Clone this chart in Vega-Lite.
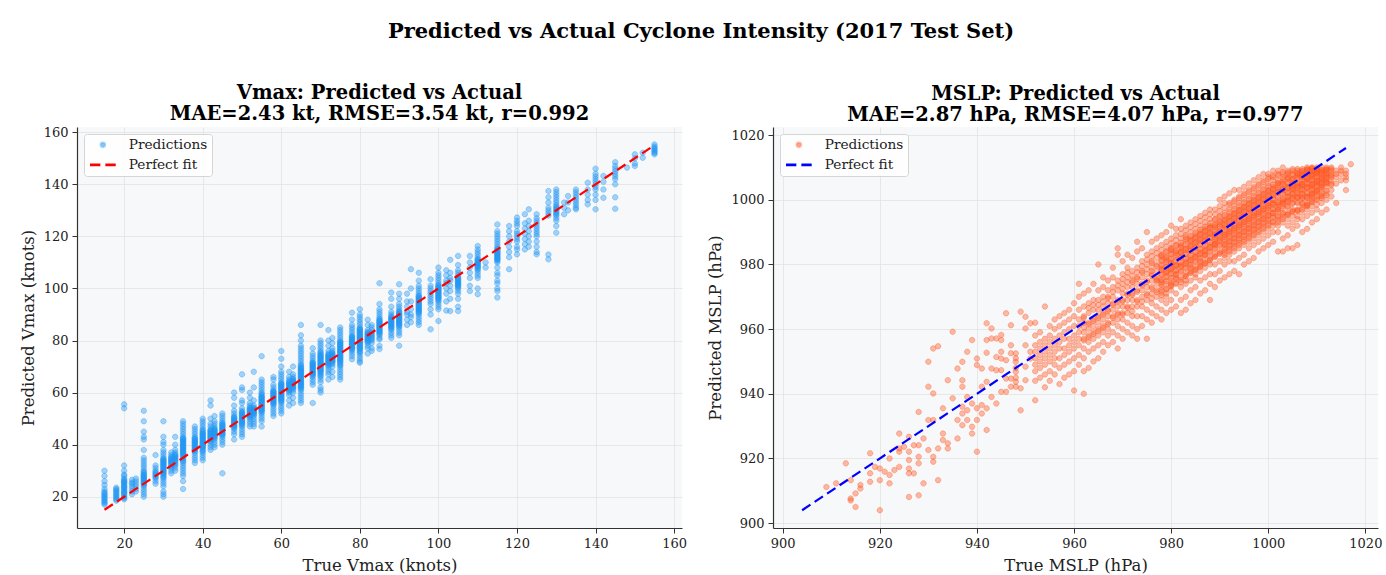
{
"$schema": "https://vega.github.io/schema/vega-lite/v6.json",
"background": "white",
"padding": {"left": 20, "top": 20, "right": 6, "bottom": 2},
"title": {"text": "Predicted vs Actual Cyclone Intensity (2017 Test Set)", "font": "DejaVu Serif", "fontSize": 21, "fontWeight": "bold", "color": "#000", "anchor": "middle", "offset": 41},
"bounds": "flush",
"spacing": 91,
"resolve": {"scale": {"color": "independent", "shape": "independent", "stroke": "independent"}, "legend": {"color": "independent", "shape": "independent", "stroke": "independent"}},
"config": {
  "view": {"fill": "#f7f8fa", "stroke": null},
  "axis": {"labelFont": "DejaVu Serif", "labelFontSize": 13, "labelColor": "#222", "titleFont": "DejaVu Serif", "titleFontSize": 16.5, "titleFontWeight": "normal", "titleColor": "#222", "domainColor": "#333", "domainWidth": 1.2, "tickColor": "#333", "tickSize": 5, "tickWidth": 1, "gridColor": "#e2e2e2", "gridWidth": 0.8, "labelPadding": 4, "titlePadding": 7, "format": "d"},
  "title": {"font": "DejaVu Serif", "fontSize": 19.5, "fontWeight": "bold", "color": "#000"},
  "legend": {"title": null, "orient": "top-left", "offset": 7, "fillColor": "rgba(255,255,255,0.85)", "strokeColor": "#d5d5d5", "cornerRadius": 3, "padding": 4, "labelFont": "DejaVu Serif", "labelFontSize": 13.7, "labelColor": "#222", "symbolSize": 100, "symbolStrokeWidth": 2.6, "symbolOffset": 8, "rowPadding": 4, "labelOffset": 19}
},
"datasets": {
"fitV": [{"t": 15, "p": 15}, {"t": 155, "p": 155}],
"fitM": [{"t": 904, "p": 904}, {"t": 1016, "p": 1016}],
"vmax": [
{"t":15,"p":17},{"t":15,"p":17.5},{"t":15,"p":18},{"t":15,"p":18.5},{"t":15,"p":19},{"t":15,"p":19.5},{"t":15,"p":20},{"t":15,"p":20.5},{"t":15,"p":21},{"t":15,"p":21.5},{"t":15,"p":22},{"t":15,"p":23},{"t":15,"p":24.5},{"t":15,"p":26},{"t":15,"p":28},{"t":15,"p":30},
{"t":18,"p":18.5},{"t":18,"p":19},{"t":18,"p":19.5},{"t":18,"p":20},{"t":18,"p":20.5},{"t":18,"p":21},{"t":18,"p":21.5},{"t":18,"p":22},{"t":18,"p":22.5},{"t":18,"p":23},{"t":18,"p":23.5},
{"t":20,"p":19},{"t":20,"p":19.5},{"t":20,"p":20.5},{"t":20,"p":21.5},{"t":20,"p":22.5},{"t":20,"p":23},{"t":20,"p":23.5},{"t":20,"p":24},{"t":20,"p":25},{"t":20,"p":25.5},{"t":20,"p":26},{"t":20,"p":27},{"t":20,"p":28},{"t":20,"p":28.5},{"t":20,"p":30},{"t":20,"p":32},{"t":20,"p":54},{"t":20,"p":55.5},
{"t":20,"p":20},{"t":20,"p":21},{"t":20,"p":22},{"t":20,"p":24.5},{"t":20,"p":26.5},
{"t":22,"p":21},{"t":22,"p":22},{"t":22,"p":23},{"t":22,"p":24},{"t":22,"p":25},{"t":22,"p":25.5},{"t":22,"p":26.5},
{"t":23,"p":22},{"t":23,"p":23},{"t":23,"p":24},{"t":23,"p":25},{"t":23,"p":26},{"t":23,"p":27},
{"t":25,"p":20},{"t":25,"p":21},{"t":25,"p":22},{"t":25,"p":23},{"t":25,"p":24},{"t":25,"p":25},{"t":25,"p":26},{"t":25,"p":27},{"t":25,"p":28},{"t":25,"p":29},{"t":25,"p":30},{"t":25,"p":31},{"t":25,"p":32},{"t":25,"p":33},{"t":25,"p":34},{"t":25,"p":35},{"t":25,"p":38},{"t":25,"p":42},{"t":25,"p":43},{"t":25,"p":45},{"t":25,"p":49},{"t":25,"p":53},
{"t":25,"p":24.5},{"t":25,"p":25.5},{"t":25,"p":26.5},{"t":25,"p":27.5},{"t":25,"p":28.5},{"t":25,"p":29.5},
{"t":28,"p":25},{"t":28,"p":26},{"t":28,"p":27},{"t":28,"p":28},{"t":28,"p":29},{"t":28,"p":30},{"t":28,"p":31},{"t":28,"p":32},{"t":28,"p":36},
{"t":30,"p":20},{"t":30,"p":21},{"t":30,"p":22},{"t":30,"p":24},{"t":30,"p":25},{"t":30,"p":26},{"t":30,"p":27},{"t":30,"p":28},{"t":30,"p":29},{"t":30,"p":30},{"t":30,"p":31},{"t":30,"p":32},{"t":30,"p":33},{"t":30,"p":34},{"t":30,"p":35},{"t":30,"p":36},{"t":30,"p":37},{"t":30,"p":38},{"t":30,"p":40},{"t":30,"p":41},{"t":30,"p":43},{"t":30,"p":49},
{"t":30,"p":27.5},{"t":30,"p":28.5},{"t":30,"p":29.5},{"t":30,"p":30.5},{"t":30,"p":31.5},{"t":30,"p":32.5},{"t":30,"p":33.5},{"t":30,"p":34.5},
{"t":32,"p":29},{"t":32,"p":30},{"t":32,"p":31},{"t":32,"p":32},{"t":32,"p":33},{"t":32,"p":34},{"t":32,"p":35},{"t":32,"p":36},{"t":32,"p":37},
{"t":32,"p":31.5},{"t":32,"p":32.5},{"t":32,"p":33.5},{"t":32,"p":34.5},
{"t":33,"p":30},{"t":33,"p":31},{"t":33,"p":32},{"t":33,"p":33},{"t":33,"p":34},{"t":33,"p":35},{"t":33,"p":36},{"t":33,"p":37},{"t":33,"p":38},{"t":33,"p":40},{"t":33,"p":43},
{"t":33,"p":32.5},{"t":33,"p":33.5},{"t":33,"p":34.5},{"t":33,"p":35.5},
{"t":35,"p":23},{"t":35,"p":26},{"t":35,"p":28},{"t":35,"p":29},{"t":35,"p":30},{"t":35,"p":31},{"t":35,"p":32},{"t":35,"p":33},{"t":35,"p":34},{"t":35,"p":35},{"t":35,"p":36},{"t":35,"p":37},{"t":35,"p":38},{"t":35,"p":39},{"t":35,"p":40},{"t":35,"p":41},{"t":35,"p":42},{"t":35,"p":43},{"t":35,"p":44},{"t":35,"p":45},{"t":35,"p":46},{"t":35,"p":47},{"t":35,"p":48},{"t":35,"p":49},
{"t":35,"p":33.5},{"t":35,"p":34.5},{"t":35,"p":35.5},{"t":35,"p":36.5},{"t":35,"p":37.5},{"t":35,"p":38.5},{"t":35,"p":39.5},{"t":35,"p":40.5},{"t":35,"p":41.5},{"t":35,"p":42.5},
{"t":38,"p":33},{"t":38,"p":34},{"t":38,"p":35},{"t":38,"p":36},{"t":38,"p":37},{"t":38,"p":38},{"t":38,"p":39},{"t":38,"p":40},{"t":38,"p":41},{"t":38,"p":42},{"t":38,"p":43},{"t":38,"p":44},{"t":38,"p":45},{"t":38,"p":46},{"t":38,"p":47},
{"t":38,"p":37.5},{"t":38,"p":38.5},{"t":38,"p":39.5},{"t":38,"p":40.5},{"t":38,"p":41.5},{"t":38,"p":42.5},
{"t":40,"p":34},{"t":40,"p":35},{"t":40,"p":36},{"t":40,"p":37},{"t":40,"p":38},{"t":40,"p":39},{"t":40,"p":40},{"t":40,"p":41},{"t":40,"p":42},{"t":40,"p":43},{"t":40,"p":44},{"t":40,"p":45},{"t":40,"p":46},{"t":40,"p":47},{"t":40,"p":48},{"t":40,"p":49},{"t":40,"p":50},
{"t":40,"p":37.5},{"t":40,"p":38.5},{"t":40,"p":39.5},{"t":40,"p":40.5},{"t":40,"p":41.5},{"t":40,"p":42.5},{"t":40,"p":43.5},{"t":40,"p":44.5},{"t":40,"p":45.5},
{"t":42,"p":38},{"t":42,"p":39},{"t":42,"p":40},{"t":42,"p":41},{"t":42,"p":42},{"t":42,"p":43},{"t":42,"p":44},{"t":42,"p":45},{"t":42,"p":46},{"t":42,"p":47},{"t":42,"p":48},{"t":42,"p":50},{"t":42,"p":55},{"t":42,"p":57},
{"t":42,"p":41.5},{"t":42,"p":42.5},{"t":42,"p":43.5},{"t":42,"p":44.5},{"t":42,"p":45.5},
{"t":43,"p":39},{"t":43,"p":40},{"t":43,"p":41},{"t":43,"p":42},{"t":43,"p":43},{"t":43,"p":44},{"t":43,"p":45},{"t":43,"p":46},{"t":43,"p":47},{"t":43,"p":48},{"t":43,"p":49},{"t":43,"p":51},
{"t":43,"p":42.5},{"t":43,"p":43.5},{"t":43,"p":44.5},{"t":43,"p":45.5},
{"t":45,"p":29},{"t":45,"p":40},{"t":45,"p":41},{"t":45,"p":42},{"t":45,"p":43},{"t":45,"p":44},{"t":45,"p":45},{"t":45,"p":46},{"t":45,"p":47},{"t":45,"p":48},{"t":45,"p":49},{"t":45,"p":50},{"t":45,"p":51},{"t":45,"p":52},
{"t":45,"p":43.5},{"t":45,"p":44.5},{"t":45,"p":45.5},{"t":45,"p":46.5},{"t":45,"p":47.5},
{"t":48,"p":42},{"t":48,"p":44},{"t":48,"p":45},{"t":48,"p":46},{"t":48,"p":47},{"t":48,"p":48},{"t":48,"p":49},{"t":48,"p":50},{"t":48,"p":51},{"t":48,"p":52},{"t":48,"p":53},{"t":48,"p":55},{"t":48,"p":58},{"t":48,"p":60},
{"t":48,"p":46.5},{"t":48,"p":47.5},{"t":48,"p":48.5},{"t":48,"p":49.5},{"t":48,"p":50.5},
{"t":50,"p":43},{"t":50,"p":44},{"t":50,"p":45},{"t":50,"p":46},{"t":50,"p":47},{"t":50,"p":48},{"t":50,"p":49},{"t":50,"p":50},{"t":50,"p":51},{"t":50,"p":52},{"t":50,"p":53},{"t":50,"p":54},{"t":50,"p":56},{"t":50,"p":57},{"t":50,"p":61},{"t":50,"p":62},{"t":50,"p":67},
{"t":50,"p":47.5},{"t":50,"p":48.5},{"t":50,"p":49.5},{"t":50,"p":50.5},{"t":50,"p":51.5},{"t":50,"p":52.5},
{"t":52,"p":47},{"t":52,"p":48},{"t":52,"p":49},{"t":52,"p":50},{"t":52,"p":51},{"t":52,"p":52},{"t":52,"p":53},{"t":52,"p":54},{"t":52,"p":55},{"t":52,"p":56},{"t":52,"p":58},{"t":52,"p":60},
{"t":52,"p":50.5},{"t":52,"p":51.5},{"t":52,"p":52.5},{"t":52,"p":53.5},
{"t":53,"p":47},{"t":53,"p":48},{"t":53,"p":49},{"t":53,"p":50},{"t":53,"p":51},{"t":53,"p":52},{"t":53,"p":53},{"t":53,"p":54},{"t":53,"p":55},{"t":53,"p":57},{"t":53,"p":62},{"t":53,"p":68},
{"t":53,"p":51.5},{"t":53,"p":52.5},{"t":53,"p":53.5},
{"t":55,"p":47},{"t":55,"p":49},{"t":55,"p":50},{"t":55,"p":51},{"t":55,"p":52},{"t":55,"p":53},{"t":55,"p":54},{"t":55,"p":55},{"t":55,"p":56},{"t":55,"p":57},{"t":55,"p":58},{"t":55,"p":59},{"t":55,"p":60},{"t":55,"p":61},{"t":55,"p":62},{"t":55,"p":63},{"t":55,"p":64},{"t":55,"p":65},{"t":55,"p":74},
{"t":55,"p":52.5},{"t":55,"p":53.5},{"t":55,"p":54.5},{"t":55,"p":55.5},{"t":55,"p":56.5},{"t":55,"p":57.5},{"t":55,"p":58.5},{"t":55,"p":59.5},
{"t":58,"p":51},{"t":58,"p":52},{"t":58,"p":53},{"t":58,"p":54},{"t":58,"p":55},{"t":58,"p":56},{"t":58,"p":57},{"t":58,"p":58},{"t":58,"p":59},{"t":58,"p":60},{"t":58,"p":61},{"t":58,"p":62},{"t":58,"p":63},{"t":58,"p":65},{"t":58,"p":66},
{"t":58,"p":55.5},{"t":58,"p":56.5},{"t":58,"p":57.5},{"t":58,"p":58.5},{"t":58,"p":59.5},{"t":58,"p":60.5},
{"t":60,"p":52},{"t":60,"p":53},{"t":60,"p":54},{"t":60,"p":55},{"t":60,"p":56},{"t":60,"p":57},{"t":60,"p":58},{"t":60,"p":59},{"t":60,"p":60},{"t":60,"p":61},{"t":60,"p":62},{"t":60,"p":63},{"t":60,"p":64},{"t":60,"p":65},{"t":60,"p":66},{"t":60,"p":67},{"t":60,"p":68},{"t":60,"p":70},{"t":60,"p":73},{"t":60,"p":76},
{"t":60,"p":56.5},{"t":60,"p":57.5},{"t":60,"p":58.5},{"t":60,"p":59.5},{"t":60,"p":60.5},{"t":60,"p":61.5},{"t":60,"p":62.5},{"t":60,"p":63.5},
{"t":62,"p":55},{"t":62,"p":57},{"t":62,"p":59},{"t":62,"p":60},{"t":62,"p":61},{"t":62,"p":62},{"t":62,"p":63},{"t":62,"p":64},{"t":62,"p":65},{"t":62,"p":66},{"t":62,"p":68},
{"t":62,"p":60.5},{"t":62,"p":61.5},{"t":62,"p":62.5},{"t":62,"p":63.5},
{"t":63,"p":56},{"t":63,"p":58},{"t":63,"p":60},{"t":63,"p":61},{"t":63,"p":62},{"t":63,"p":63},{"t":63,"p":64},{"t":63,"p":65},{"t":63,"p":66},{"t":63,"p":67},{"t":63,"p":70},
{"t":63,"p":61.5},{"t":63,"p":62.5},{"t":63,"p":63.5},{"t":63,"p":64.5},
{"t":65,"p":56},{"t":65,"p":57},{"t":65,"p":58},{"t":65,"p":59},{"t":65,"p":60},{"t":65,"p":61},{"t":65,"p":62},{"t":65,"p":63},{"t":65,"p":64},{"t":65,"p":65},{"t":65,"p":66},{"t":65,"p":67},{"t":65,"p":68},{"t":65,"p":69},{"t":65,"p":70},{"t":65,"p":71},{"t":65,"p":72},{"t":65,"p":73},{"t":65,"p":74},{"t":65,"p":75},{"t":65,"p":76},{"t":65,"p":77},{"t":65,"p":78},{"t":65,"p":80},{"t":65,"p":82},{"t":65,"p":86},
{"t":65,"p":61.5},{"t":65,"p":62.5},{"t":65,"p":63.5},{"t":65,"p":64.5},{"t":65,"p":65.5},{"t":65,"p":66.5},{"t":65,"p":67.5},{"t":65,"p":68.5},{"t":65,"p":69.5},{"t":65,"p":70.5},
{"t":68,"p":56},{"t":68,"p":63},{"t":68,"p":64},{"t":68,"p":65},{"t":68,"p":66},{"t":68,"p":67},{"t":68,"p":68},{"t":68,"p":69},{"t":68,"p":70},{"t":68,"p":71},{"t":68,"p":72},{"t":68,"p":73},{"t":68,"p":74},{"t":68,"p":75},{"t":68,"p":77},
{"t":68,"p":66.5},{"t":68,"p":67.5},{"t":68,"p":68.5},{"t":68,"p":69.5},{"t":68,"p":70.5},{"t":68,"p":71.5},
{"t":70,"p":60},{"t":70,"p":61},{"t":70,"p":62},{"t":70,"p":64},{"t":70,"p":65},{"t":70,"p":66},{"t":70,"p":67},{"t":70,"p":68},{"t":70,"p":69},{"t":70,"p":70},{"t":70,"p":71},{"t":70,"p":72},{"t":70,"p":73},{"t":70,"p":74},{"t":70,"p":75},{"t":70,"p":76},{"t":70,"p":77},{"t":70,"p":78},{"t":70,"p":79},{"t":70,"p":80},{"t":70,"p":86},
{"t":70,"p":66.5},{"t":70,"p":67.5},{"t":70,"p":68.5},{"t":70,"p":69.5},{"t":70,"p":70.5},{"t":70,"p":71.5},{"t":70,"p":72.5},{"t":70,"p":73.5},{"t":70,"p":74.5},{"t":70,"p":75.5},
{"t":72,"p":65},{"t":72,"p":67},{"t":72,"p":68},{"t":72,"p":69},{"t":72,"p":70},{"t":72,"p":71},{"t":72,"p":72},{"t":72,"p":73},{"t":72,"p":74},{"t":72,"p":75},{"t":72,"p":76},{"t":72,"p":78},{"t":72,"p":80},{"t":72,"p":84},
{"t":72,"p":70.5},{"t":72,"p":71.5},{"t":72,"p":72.5},{"t":72,"p":73.5},{"t":72,"p":74.5},
{"t":73,"p":66},{"t":73,"p":68},{"t":73,"p":70},{"t":73,"p":71},{"t":73,"p":72},{"t":73,"p":73},{"t":73,"p":74},{"t":73,"p":75},{"t":73,"p":76},{"t":73,"p":77},{"t":73,"p":79},{"t":73,"p":81},
{"t":73,"p":71.5},{"t":73,"p":72.5},{"t":73,"p":73.5},{"t":73,"p":74.5},
{"t":75,"p":65},{"t":75,"p":66},{"t":75,"p":67},{"t":75,"p":68},{"t":75,"p":69},{"t":75,"p":70},{"t":75,"p":71},{"t":75,"p":72},{"t":75,"p":73},{"t":75,"p":74},{"t":75,"p":75},{"t":75,"p":76},{"t":75,"p":77},{"t":75,"p":78},{"t":75,"p":79},{"t":75,"p":80},{"t":75,"p":81},{"t":75,"p":82},{"t":75,"p":83},{"t":75,"p":84},{"t":75,"p":85},
{"t":75,"p":70.5},{"t":75,"p":71.5},{"t":75,"p":72.5},{"t":75,"p":73.5},{"t":75,"p":74.5},{"t":75,"p":75.5},{"t":75,"p":76.5},{"t":75,"p":77.5},{"t":75,"p":78.5},{"t":75,"p":79.5},
{"t":78,"p":72.8},{"t":78,"p":74},{"t":78,"p":75},{"t":78,"p":76},{"t":78,"p":77},{"t":78,"p":78},{"t":78,"p":79},{"t":78,"p":80},{"t":78,"p":81},{"t":78,"p":82},{"t":78,"p":83},{"t":78,"p":84},{"t":78,"p":85},{"t":78,"p":86},{"t":78,"p":88},{"t":78,"p":90.7},
{"t":78,"p":76.5},{"t":78,"p":77.5},{"t":78,"p":78.5},{"t":78,"p":79.5},{"t":78,"p":80.5},{"t":78,"p":81.5},
{"t":80,"p":71.5},{"t":80,"p":72},{"t":80,"p":73},{"t":80,"p":74},{"t":80,"p":75},{"t":80,"p":76},{"t":80,"p":77},{"t":80,"p":78},{"t":80,"p":79},{"t":80,"p":80},{"t":80,"p":81},{"t":80,"p":82},{"t":80,"p":83},{"t":80,"p":84},{"t":80,"p":85},{"t":80,"p":86},{"t":80,"p":87},{"t":80,"p":88},{"t":80,"p":89},{"t":80,"p":90},{"t":80,"p":92},
{"t":80,"p":75.5},{"t":80,"p":76.5},{"t":80,"p":77.5},{"t":80,"p":78.5},{"t":80,"p":79.5},{"t":80,"p":80.5},{"t":80,"p":81.5},{"t":80,"p":82.5},{"t":80,"p":83.5},{"t":80,"p":84.5},
{"t":82,"p":75},{"t":82,"p":77},{"t":82,"p":78},{"t":82,"p":79},{"t":82,"p":80},{"t":82,"p":81},{"t":82,"p":82},{"t":82,"p":83},{"t":82,"p":84},{"t":82,"p":86},{"t":82,"p":88},
{"t":82,"p":79.5},{"t":82,"p":80.5},{"t":82,"p":81.5},{"t":82,"p":82.5},
{"t":83,"p":76},{"t":83,"p":77},{"t":83,"p":79},{"t":83,"p":80},{"t":83,"p":81},{"t":83,"p":82},{"t":83,"p":83},{"t":83,"p":84},{"t":83,"p":85},{"t":83,"p":86},
{"t":83,"p":80.5},{"t":83,"p":81.5},{"t":83,"p":82.5},
{"t":85,"p":76.7},{"t":85,"p":78},{"t":85,"p":80.5},{"t":85,"p":81},{"t":85,"p":82},{"t":85,"p":83},{"t":85,"p":84},{"t":85,"p":85},{"t":85,"p":86},{"t":85,"p":87},{"t":85,"p":88},{"t":85,"p":89},{"t":85,"p":90},{"t":85,"p":91},{"t":85,"p":92},{"t":85,"p":94},{"t":85,"p":102},
{"t":85,"p":82.5},{"t":85,"p":83.5},{"t":85,"p":84.5},{"t":85,"p":85.5},{"t":85,"p":86.5},{"t":85,"p":87.5},
{"t":88,"p":81},{"t":88,"p":82},{"t":88,"p":83},{"t":88,"p":84},{"t":88,"p":85},{"t":88,"p":86},{"t":88,"p":87},{"t":88,"p":88},{"t":88,"p":89},{"t":88,"p":90},{"t":88,"p":91},{"t":88,"p":93},{"t":88,"p":96},{"t":88,"p":98.4},
{"t":88,"p":84.5},{"t":88,"p":85.5},{"t":88,"p":86.5},{"t":88,"p":87.5},{"t":88,"p":88.5},
{"t":90,"p":78},{"t":90,"p":82},{"t":90,"p":83},{"t":90,"p":84},{"t":90,"p":85},{"t":90,"p":86},{"t":90,"p":87},{"t":90,"p":88},{"t":90,"p":89},{"t":90,"p":90},{"t":90,"p":91},{"t":90,"p":92},{"t":90,"p":93},{"t":90,"p":94},{"t":90,"p":96},{"t":90,"p":98},{"t":90,"p":101.6},
{"t":90,"p":85.5},{"t":90,"p":86.5},{"t":90,"p":87.5},{"t":90,"p":88.5},{"t":90,"p":89.5},{"t":90,"p":90.5},
{"t":92,"p":86},{"t":92,"p":88},{"t":92,"p":90},{"t":92,"p":91},{"t":92,"p":93},{"t":92,"p":95},{"t":92,"p":98},
{"t":93,"p":87},{"t":93,"p":89},{"t":93,"p":90},{"t":93,"p":92},{"t":93,"p":95},{"t":93,"p":100},{"t":93,"p":107.4},
{"t":95,"p":86},{"t":95,"p":87},{"t":95,"p":88},{"t":95,"p":89},{"t":95,"p":90},{"t":95,"p":91},{"t":95,"p":92},{"t":95,"p":93},{"t":95,"p":94},{"t":95,"p":95},{"t":95,"p":96},{"t":95,"p":97},{"t":95,"p":98},{"t":95,"p":99},{"t":95,"p":100},{"t":95,"p":101},{"t":95,"p":103},{"t":95,"p":106},
{"t":95,"p":90.5},{"t":95,"p":91.5},{"t":95,"p":92.5},{"t":95,"p":93.5},{"t":95,"p":94.5},{"t":95,"p":95.5},{"t":95,"p":96.5},
{"t":98,"p":84.3},{"t":98,"p":90},{"t":98,"p":92},{"t":98,"p":94},{"t":98,"p":95},{"t":98,"p":96},{"t":98,"p":97},{"t":98,"p":98},{"t":98,"p":99},{"t":98,"p":100},{"t":98,"p":101},{"t":98,"p":103.5},
{"t":100,"p":87.5},{"t":100,"p":92},{"t":100,"p":93},{"t":100,"p":94},{"t":100,"p":95},{"t":100,"p":96},{"t":100,"p":97},{"t":100,"p":98},{"t":100,"p":99},{"t":100,"p":100},{"t":100,"p":101},{"t":100,"p":102},{"t":100,"p":103},{"t":100,"p":104},{"t":100,"p":105},{"t":100,"p":106},{"t":100,"p":108},
{"t":100,"p":95.5},{"t":100,"p":96.5},{"t":100,"p":97.5},{"t":100,"p":98.5},{"t":100,"p":99.5},{"t":100,"p":100.5},
{"t":102,"p":91.5},{"t":102,"p":95},{"t":102,"p":98},{"t":102,"p":100},{"t":102,"p":102},{"t":102,"p":103},{"t":102,"p":105},{"t":102,"p":107},
{"t":103,"p":91.3},{"t":103,"p":96},{"t":103,"p":99},{"t":103,"p":101},{"t":103,"p":103},{"t":103,"p":104},{"t":103,"p":106},{"t":103,"p":111},
{"t":105,"p":91.3},{"t":105,"p":93},{"t":105,"p":96},{"t":105,"p":98},{"t":105,"p":99},{"t":105,"p":100},{"t":105,"p":101},{"t":105,"p":102},{"t":105,"p":103},{"t":105,"p":104},{"t":105,"p":105},{"t":105,"p":106},{"t":105,"p":107},{"t":105,"p":109},{"t":105,"p":112.5},
{"t":105,"p":100.5},{"t":105,"p":101.5},{"t":105,"p":102.5},{"t":105,"p":103.5},
{"t":108,"p":99},{"t":108,"p":101},{"t":108,"p":104},{"t":108,"p":106},{"t":108,"p":108},{"t":108,"p":110},{"t":108,"p":112.5},
{"t":110,"p":97.8},{"t":110,"p":100},{"t":110,"p":104},{"t":110,"p":105},{"t":110,"p":106},{"t":110,"p":107},{"t":110,"p":108},{"t":110,"p":109},{"t":110,"p":110},{"t":110,"p":111},{"t":110,"p":112},{"t":110,"p":113},{"t":110,"p":114},{"t":110,"p":115},{"t":110,"p":116.3},
{"t":110,"p":107.5},{"t":110,"p":108.5},{"t":110,"p":109.5},{"t":110,"p":110.5},
{"t":112,"p":108},{"t":112,"p":110},
{"t":115,"p":96.5},{"t":115,"p":99},{"t":115,"p":100},{"t":115,"p":102},{"t":115,"p":103},{"t":115,"p":105},{"t":115,"p":106},{"t":115,"p":108},{"t":115,"p":110},{"t":115,"p":111},{"t":115,"p":112},{"t":115,"p":113},{"t":115,"p":114},{"t":115,"p":115},{"t":115,"p":116},{"t":115,"p":117},{"t":115,"p":118},{"t":115,"p":119},{"t":115,"p":120},{"t":115,"p":121},{"t":115,"p":122},{"t":115,"p":124.6},
{"t":115,"p":110.5},{"t":115,"p":111.5},{"t":115,"p":112.5},{"t":115,"p":113.5},{"t":115,"p":114.5},
{"t":118,"p":107.4},{"t":118,"p":112},{"t":118,"p":114},{"t":118,"p":116},{"t":118,"p":118},{"t":118,"p":120},{"t":118,"p":122},{"t":118,"p":124},
{"t":120,"p":113.1},{"t":120,"p":115},{"t":120,"p":116},{"t":120,"p":118},{"t":120,"p":119},{"t":120,"p":120},{"t":120,"p":121},{"t":120,"p":122},{"t":120,"p":124},{"t":120,"p":125},{"t":120,"p":126},{"t":120,"p":127.2},
{"t":122,"p":115},{"t":122,"p":117},{"t":122,"p":119},{"t":122,"p":121},{"t":122,"p":123},{"t":122,"p":125},{"t":122,"p":128.5},
{"t":123,"p":116},{"t":123,"p":118},{"t":123,"p":120},{"t":123,"p":122},{"t":123,"p":124},{"t":123,"p":126},{"t":123,"p":130.4},
{"t":125,"p":113.1},{"t":125,"p":114},{"t":125,"p":116},{"t":125,"p":118},{"t":125,"p":120},{"t":125,"p":121},{"t":125,"p":122},{"t":125,"p":123},{"t":125,"p":124},{"t":125,"p":125},{"t":125,"p":126},{"t":125,"p":127},{"t":125,"p":128.5},
{"t":128,"p":111.2},{"t":128,"p":113},{"t":128,"p":128},{"t":128,"p":129},{"t":128,"p":130},{"t":128,"p":131},{"t":128,"p":133},{"t":128,"p":135},{"t":128,"p":137.4},
{"t":130,"p":121.4},{"t":130,"p":124},{"t":130,"p":126},{"t":130,"p":127},{"t":130,"p":128},{"t":130,"p":129},{"t":130,"p":130},{"t":130,"p":131},{"t":130,"p":132},{"t":130,"p":133},{"t":130,"p":134},{"t":130,"p":135},{"t":130,"p":136},{"t":130,"p":137},{"t":130,"p":138},
{"t":132,"p":128.5},{"t":132,"p":131},{"t":132,"p":133},
{"t":133,"p":130},{"t":133,"p":133},{"t":133,"p":135.5},
{"t":135,"p":130.4},{"t":135,"p":131},{"t":135,"p":132},{"t":135,"p":133},{"t":135,"p":134},{"t":135,"p":135},{"t":135,"p":136},{"t":135,"p":137},{"t":135,"p":138},
{"t":138,"p":132.3},{"t":138,"p":134},{"t":138,"p":136},{"t":138,"p":138},{"t":138,"p":140.6},
{"t":140,"p":130.4},{"t":140,"p":134},{"t":140,"p":136},{"t":140,"p":138},{"t":140,"p":139},{"t":140,"p":140},{"t":140,"p":141},{"t":140,"p":142},{"t":140,"p":143},{"t":140,"p":144},{"t":140,"p":146},
{"t":142,"p":134.8},{"t":142,"p":138},{"t":142,"p":141},{"t":142,"p":143.2},
{"t":145,"p":130.6},{"t":145,"p":135},{"t":145,"p":140},{"t":145,"p":142},{"t":145,"p":143},{"t":145,"p":144},{"t":145,"p":145},{"t":145,"p":146},{"t":145,"p":147},{"t":145,"p":148.5},
{"t":148,"p":146.4},
{"t":150,"p":147},{"t":150,"p":148},{"t":150,"p":150},{"t":150,"p":151.5},
{"t":152,"p":150.2},{"t":152,"p":152.1},
{"t":155,"p":151.5},{"t":155,"p":152},{"t":155,"p":152.5},{"t":155,"p":153},{"t":155,"p":153.5},{"t":155,"p":154},{"t":155,"p":154.5},{"t":155,"p":155.3},
{"t":20,"p":21.75},{"t":20,"p":23.75},{"t":20,"p":25.75},
{"t":25,"p":25.25},{"t":25,"p":26.25},{"t":25,"p":27.25},{"t":25,"p":28.25},
{"t":28,"p":27.5},{"t":28,"p":28.5},{"t":28,"p":29.5},
{"t":30,"p":29.25},{"t":30,"p":30.25},{"t":30,"p":31.25},{"t":30,"p":32.25},{"t":30,"p":33.25},{"t":30,"p":34.25},
{"t":32,"p":33.25},{"t":32,"p":34.25},{"t":32,"p":35.25},
{"t":33,"p":34.25},{"t":33,"p":35.25},{"t":33,"p":36.25},
{"t":35,"p":36.25},{"t":35,"p":37.25},{"t":35,"p":38.25},{"t":35,"p":39.25},{"t":35,"p":40.25},{"t":35,"p":41.25},{"t":35,"p":42.25},
{"t":38,"p":38.25},{"t":38,"p":39.25},{"t":38,"p":40.25},{"t":38,"p":41.25},{"t":38,"p":42.25},
{"t":40,"p":39.25},{"t":40,"p":40.25},{"t":40,"p":41.25},{"t":40,"p":42.25},{"t":40,"p":43.25},{"t":40,"p":44.25},
{"t":42,"p":42.25},{"t":42,"p":43.25},{"t":42,"p":44.25},{"t":42,"p":45.25},
{"t":43,"p":43.25},{"t":43,"p":44.25},{"t":43,"p":45.25},{"t":43,"p":46.25},
{"t":45,"p":44.25},{"t":45,"p":45.25},{"t":45,"p":46.25},{"t":45,"p":47.25},{"t":45,"p":48.25},
{"t":48,"p":47.25},{"t":48,"p":48.25},{"t":48,"p":49.25},{"t":48,"p":50.25},
{"t":50,"p":48.25},{"t":50,"p":49.25},{"t":50,"p":50.25},{"t":50,"p":51.25},{"t":50,"p":52.25},
{"t":52,"p":51.25},{"t":52,"p":52.25},{"t":52,"p":53.25},{"t":52,"p":54.25},
{"t":53,"p":52.25},{"t":53,"p":53.25},{"t":53,"p":54.25},
{"t":55,"p":53.25},{"t":55,"p":54.25},{"t":55,"p":55.25},{"t":55,"p":56.25},{"t":55,"p":57.25},{"t":55,"p":58.25},
{"t":58,"p":56.25},{"t":58,"p":57.25},{"t":58,"p":58.25},{"t":58,"p":59.25},{"t":58,"p":60.25},
{"t":60,"p":57.25},{"t":60,"p":58.25},{"t":60,"p":59.25},{"t":60,"p":60.25},{"t":60,"p":61.25},{"t":60,"p":62.25},{"t":60,"p":63.25},
{"t":62,"p":61.25},{"t":62,"p":62.25},{"t":62,"p":63.25},{"t":62,"p":64.25},
{"t":63,"p":62.25},{"t":63,"p":63.25},{"t":63,"p":64.25},{"t":63,"p":65.25},
{"t":65,"p":62.25},{"t":65,"p":63.25},{"t":65,"p":64.25},{"t":65,"p":65.25},{"t":65,"p":66.25},{"t":65,"p":67.25},{"t":65,"p":68.25},{"t":65,"p":69.25},
{"t":68,"p":67.25},{"t":68,"p":68.25},{"t":68,"p":69.25},{"t":68,"p":70.25},{"t":68,"p":71.25},
{"t":70,"p":68.25},{"t":70,"p":69.25},{"t":70,"p":70.25},{"t":70,"p":71.25},{"t":70,"p":72.25},{"t":70,"p":73.25},{"t":70,"p":74.25},
{"t":72,"p":71.25},{"t":72,"p":72.25},{"t":72,"p":73.25},{"t":72,"p":74.25},
{"t":73,"p":72.25},{"t":73,"p":73.25},{"t":73,"p":74.25},{"t":73,"p":75.25},
{"t":75,"p":72.25},{"t":75,"p":73.25},{"t":75,"p":74.25},{"t":75,"p":75.25},{"t":75,"p":76.25},{"t":75,"p":77.25},{"t":75,"p":78.25},{"t":75,"p":79.25},
{"t":78,"p":77.25},{"t":78,"p":78.25},{"t":78,"p":79.25},{"t":78,"p":80.25},{"t":78,"p":81.25},
{"t":80,"p":77.25},{"t":80,"p":78.25},{"t":80,"p":79.25},{"t":80,"p":80.25},{"t":80,"p":81.25},{"t":80,"p":82.25},{"t":80,"p":83.25},{"t":80,"p":84.25},
{"t":82,"p":80.25},{"t":82,"p":81.25},{"t":82,"p":82.25},{"t":82,"p":83.25},
{"t":85,"p":83.25},{"t":85,"p":84.25},{"t":85,"p":85.25},{"t":85,"p":86.25},{"t":85,"p":87.25},{"t":85,"p":88.25},
{"t":88,"p":85.25},{"t":88,"p":86.25},{"t":88,"p":87.25},{"t":88,"p":88.25},{"t":88,"p":89.25},
{"t":90,"p":86.25},{"t":90,"p":87.25},{"t":90,"p":88.25},{"t":90,"p":89.25},{"t":90,"p":90.25},{"t":90,"p":91.25},
{"t":95,"p":91.25},{"t":95,"p":92.25},{"t":95,"p":93.25},{"t":95,"p":94.25},{"t":95,"p":95.25},{"t":95,"p":96.25},{"t":95,"p":97.25},
{"t":100,"p":96.25},{"t":100,"p":97.25},{"t":100,"p":98.25},{"t":100,"p":99.25},{"t":100,"p":100.25},{"t":100,"p":101.25},
{"t":105,"p":101.25},{"t":105,"p":102.25},{"t":105,"p":103.25},{"t":105,"p":104.25},
{"t":110,"p":108.25},{"t":110,"p":109.25},{"t":110,"p":110.25},{"t":110,"p":111.25},
{"t":115,"p":111.25},{"t":115,"p":112.25},{"t":115,"p":113.25},{"t":115,"p":114.25},{"t":115,"p":115.25},
{"t":130,"p":128.5},{"t":130,"p":129.5},{"t":130,"p":130.5},{"t":130,"p":131.5}
],
"mslp": [
{"t":909,"p":911.2},{"t":911,"p":912.3},{"t":913,"p":918.5},{"t":914,"p":913.3},{"t":914,"p":907.6},{"t":914,"p":907},{"t":915,"p":905},{"t":915,"p":909.2},{"t":916,"p":911.8},{"t":916,"p":910.7},
{"t":918,"p":921.6},{"t":918,"p":915.4},{"t":918,"p":912.8},{"t":919,"p":917.4},{"t":920,"p":916.9},{"t":920,"p":913.3},{"t":920,"p":904},{"t":921,"p":915.9},{"t":922,"p":920},{"t":922,"p":914.9},{"t":922,"p":912.3},{"t":923,"p":916.4},
{"t":924,"p":927.7},{"t":924,"p":923.1},{"t":924,"p":917.4},{"t":924,"p":922.1},{"t":925,"p":923.6},{"t":926,"p":922.1},{"t":926,"p":919.5},{"t":926,"p":916.9},{"t":926,"p":915.4},{"t":926,"p":908.1},{"t":926,"p":926.7},
{"t":927,"p":924.1},{"t":927,"p":915.4},{"t":928,"p":934.4},{"t":928,"p":924.1},{"t":928,"p":920.5},{"t":928,"p":918.5},{"t":928,"p":908.6},{"t":929,"p":926.2},{"t":929,"p":912.3},
{"t":930,"p":949.9},{"t":930,"p":942.2},{"t":930,"p":931.9},{"t":930,"p":922.6},{"t":931,"p":954},{"t":931,"p":940.1},{"t":931,"p":931.9},{"t":931,"p":920.5},{"t":931,"p":919},
{"t":932,"p":954.7},{"t":932,"p":913.3},{"t":932,"p":923.1},{"t":933,"p":935.5},{"t":933,"p":927.7},{"t":933,"p":925.7},{"t":934,"p":944.2},{"t":934,"p":923.1},{"t":934,"p":924.7},
{"t":935,"p":959.2},{"t":935,"p":938.6},{"t":936,"p":947.8},{"t":936,"p":931.9},{"t":936,"p":926.2},
{"t":937,"p":949.9},{"t":937,"p":944.2},{"t":937,"p":942.2},{"t":937,"p":933.9},{"t":937,"p":930.3},{"t":937,"p":936},
{"t":938,"p":953},{"t":938,"p":934.9},{"t":938,"p":931.9},{"t":938,"p":939},{"t":939,"p":956.6},{"t":939,"p":937},{"t":939,"p":927.7},{"t":939,"p":929.8},
{"t":940,"p":950.9},{"t":940,"p":948.9},{"t":940,"p":922.1},{"t":940,"p":931.9},{"t":940,"p":935.5},{"t":941,"p":942.2},{"t":941,"p":936.5},{"t":941,"p":933.9},{"t":941,"p":947.8},
{"t":942,"p":961.8},{"t":942,"p":956.6},{"t":942,"p":952.7},{"t":942,"p":943.7},{"t":942,"p":928.8},{"t":942,"p":935.5},{"t":943,"p":960.2},{"t":943,"p":957.1},{"t":943,"p":947.8},{"t":943,"p":939},
{"t":944,"p":957.1},{"t":944,"p":951.4},{"t":944,"p":947.3},{"t":944,"p":937},{"t":945,"p":958.2},{"t":945,"p":956.6},{"t":945,"p":953},{"t":945,"p":950.9},{"t":945,"p":947.3},{"t":945,"p":940.6},
{"t":946,"p":964.9},{"t":946,"p":950.4},{"t":946,"p":944.7},{"t":946,"p":940.6},{"t":947,"p":961.2},{"t":947,"p":955},{"t":947,"p":952.5},{"t":947,"p":944.7},{"t":947,"p":942.2},
{"t":948,"p":952.5},{"t":948,"p":949.9},{"t":948,"p":946.8},{"t":948,"p":943.7},{"t":948,"p":942.2},{"t":948,"p":951},{"t":948,"p":948},{"t":948,"p":945},
{"t":949,"p":965.4},{"t":949,"p":941.7},{"t":949,"p":934.9},{"t":950,"p":963.8},{"t":950,"p":960.2},{"t":950,"p":955},{"t":950,"p":948.4},{"t":950,"p":944.2},{"t":951,"p":961.8},{"t":951,"p":953},{"t":951,"p":950.9},
{"t":952,"p":938},{"t":952,"p":944},{"t":952,"p":947},{"t":952,"p":949},{"t":952,"p":951},{"t":952,"p":953},{"t":952,"p":955},{"t":952,"p":958},{"t":952,"p":962},
{"t":953,"p":945},{"t":953,"p":948},{"t":953,"p":950},{"t":953,"p":952},{"t":953,"p":954},{"t":953,"p":956},{"t":953,"p":959},
{"t":954,"p":942},{"t":954,"p":946},{"t":954,"p":949},{"t":954,"p":951},{"t":954,"p":953},{"t":954,"p":955},{"t":954,"p":957},{"t":954,"p":967},
{"t":955,"p":944},{"t":955,"p":947},{"t":955,"p":950},{"t":955,"p":952},{"t":955,"p":954},{"t":955,"p":956},{"t":955,"p":958},{"t":955,"p":961},
{"t":956,"p":946},{"t":956,"p":949},{"t":956,"p":951},{"t":956,"p":953},{"t":956,"p":955},{"t":956,"p":957},{"t":956,"p":960},{"t":956,"p":963},
{"t":957,"p":943},{"t":957,"p":948},{"t":957,"p":951},{"t":957,"p":954},{"t":957,"p":956},{"t":957,"p":958},{"t":957,"p":961},{"t":957,"p":964},
{"t":958,"p":945},{"t":958,"p":949},{"t":958,"p":952},{"t":958,"p":954},{"t":958,"p":957},{"t":958,"p":959},{"t":958,"p":962},{"t":958,"p":965},
{"t":959,"p":946},{"t":959,"p":950},{"t":959,"p":953},{"t":959,"p":955},{"t":959,"p":957},{"t":959,"p":960},{"t":959,"p":963},{"t":959,"p":966},
{"t":960,"p":941},{"t":960,"p":947},{"t":960,"p":951},{"t":960,"p":954},{"t":960,"p":956},{"t":960,"p":958},{"t":960,"p":961},{"t":960,"p":964},{"t":960,"p":968},
{"t":961,"p":949},{"t":961,"p":952},{"t":961,"p":955},{"t":961,"p":957},{"t":961,"p":959},{"t":961,"p":961},{"t":961,"p":963},{"t":961,"p":966},{"t":961,"p":970},{"t":961,"p":974},
{"t":962,"p":940},{"t":962,"p":947},{"t":962,"p":951},{"t":962,"p":954},{"t":962,"p":957},{"t":962,"p":959},{"t":962,"p":962},{"t":962,"p":964},{"t":962,"p":967},{"t":962,"p":971},
{"t":963,"p":948},{"t":963,"p":953},{"t":963,"p":956},{"t":963,"p":958},{"t":963,"p":960},{"t":963,"p":962},{"t":963,"p":965},{"t":963,"p":968},{"t":963,"p":972},
{"t":964,"p":950},{"t":964,"p":954},{"t":964,"p":957},{"t":964,"p":959},{"t":964,"p":961},{"t":964,"p":963},{"t":964,"p":966},{"t":964,"p":969},{"t":964,"p":974},
{"t":965,"p":951},{"t":965,"p":955},{"t":965,"p":958},{"t":965,"p":960},{"t":965,"p":962},{"t":965,"p":964},{"t":965,"p":966},{"t":965,"p":969},{"t":965,"p":972},{"t":965,"p":980},
{"t":966,"p":953},{"t":966,"p":956},{"t":966,"p":959},{"t":966,"p":961},{"t":966,"p":963},{"t":966,"p":965},{"t":966,"p":967},{"t":966,"p":970},{"t":966,"p":973},{"t":966,"p":976},
{"t":967,"p":955},{"t":967,"p":958},{"t":967,"p":960},{"t":967,"p":962},{"t":967,"p":964},{"t":967,"p":966},{"t":967,"p":968},{"t":967,"p":970},{"t":967,"p":972},{"t":967,"p":975},
{"t":968,"p":956},{"t":968,"p":959},{"t":968,"p":962},{"t":968,"p":964},{"t":968,"p":966},{"t":968,"p":968},{"t":968,"p":970},{"t":968,"p":973},{"t":968,"p":976},{"t":968,"p":979},
{"t":969,"p":954},{"t":969,"p":958},{"t":969,"p":961},{"t":969,"p":963},{"t":969,"p":965},{"t":969,"p":967},{"t":969,"p":969},{"t":969,"p":972},{"t":969,"p":975},{"t":969,"p":983},{"t":969,"p":985},
{"t":970,"p":957},{"t":970,"p":960},{"t":970,"p":963},{"t":970,"p":965},{"t":970,"p":967},{"t":970,"p":969},{"t":970,"p":971},{"t":970,"p":974},{"t":970,"p":977},{"t":970,"p":981},
{"t":971,"p":959},{"t":971,"p":962},{"t":971,"p":965},{"t":971,"p":967},{"t":971,"p":969},{"t":971,"p":971},{"t":971,"p":973},{"t":971,"p":976},{"t":971,"p":979},{"t":971,"p":983},
{"t":972,"p":958},{"t":972,"p":961},{"t":972,"p":964},{"t":972,"p":967},{"t":972,"p":969},{"t":972,"p":971},{"t":972,"p":973},{"t":972,"p":975},{"t":972,"p":978},{"t":972,"p":982},
{"t":973,"p":957},{"t":973,"p":960},{"t":973,"p":964},{"t":973,"p":967},{"t":973,"p":969},{"t":973,"p":972},{"t":973,"p":974},{"t":973,"p":976},{"t":973,"p":979},{"t":973,"p":984},{"t":973,"p":987},
{"t":974,"p":961},{"t":974,"p":964},{"t":974,"p":967},{"t":974,"p":970},{"t":974,"p":972},{"t":974,"p":974},{"t":974,"p":976},{"t":974,"p":978},{"t":974,"p":981},{"t":974,"p":985},
{"t":975,"p":957},{"t":975,"p":963},{"t":975,"p":966},{"t":975,"p":969},{"t":975,"p":971},{"t":975,"p":973},{"t":975,"p":975},{"t":975,"p":977},{"t":975,"p":980},{"t":975,"p":983},{"t":975,"p":990},
{"t":976,"p":962},{"t":976,"p":965},{"t":976,"p":968},{"t":976,"p":971},{"t":976,"p":973},{"t":976,"p":975},{"t":976,"p":977},{"t":976,"p":979},{"t":976,"p":981},{"t":976,"p":984},{"t":976,"p":987},{"t":976,"p":978},
{"t":977,"p":964},{"t":977,"p":967},{"t":977,"p":970},{"t":977,"p":972},{"t":977,"p":974},{"t":977,"p":976},{"t":977,"p":978},{"t":977,"p":980},{"t":977,"p":982},{"t":977,"p":985},{"t":977,"p":988},{"t":977,"p":975},
{"t":978,"p":963},{"t":978,"p":966},{"t":978,"p":969},{"t":978,"p":972},{"t":978,"p":975},{"t":978,"p":977},{"t":978,"p":979},{"t":978,"p":981},{"t":978,"p":983},{"t":978,"p":986},{"t":978,"p":989},{"t":978,"p":973},
{"t":979,"p":965},{"t":979,"p":968},{"t":979,"p":971},{"t":979,"p":974},{"t":979,"p":976},{"t":979,"p":978},{"t":979,"p":980},{"t":979,"p":982},{"t":979,"p":984},{"t":979,"p":987},{"t":979,"p":990},{"t":979,"p":970},
{"t":980,"p":966},{"t":980,"p":969},{"t":980,"p":972},{"t":980,"p":975},{"t":980,"p":977},{"t":980,"p":979},{"t":980,"p":981},{"t":980,"p":983},{"t":980,"p":985},{"t":980,"p":988},{"t":980,"p":992},{"t":980,"p":974},
{"t":981,"p":967},{"t":981,"p":971},{"t":981,"p":974},{"t":981,"p":976},{"t":981,"p":978},{"t":981,"p":980},{"t":981,"p":982},{"t":981,"p":984},{"t":981,"p":986},{"t":981,"p":989},{"t":981,"p":991},{"t":981,"p":977},
{"t":982,"p":965},{"t":982,"p":969},{"t":982,"p":973},{"t":982,"p":976},{"t":982,"p":978},{"t":982,"p":980},{"t":982,"p":982},{"t":982,"p":984},{"t":982,"p":986},{"t":982,"p":988},{"t":982,"p":991},{"t":982,"p":994},
{"t":983,"p":966},{"t":983,"p":970},{"t":983,"p":974},{"t":983,"p":977},{"t":983,"p":979},{"t":983,"p":981},{"t":983,"p":983},{"t":983,"p":985},{"t":983,"p":987},{"t":983,"p":989},{"t":983,"p":992},{"t":983,"p":975},
{"t":984,"p":968},{"t":984,"p":972},{"t":984,"p":975},{"t":984,"p":978},{"t":984,"p":980},{"t":984,"p":982},{"t":984,"p":984},{"t":984,"p":986},{"t":984,"p":988},{"t":984,"p":990},{"t":984,"p":993},{"t":984,"p":979},
{"t":985,"p":969},{"t":985,"p":973},{"t":985,"p":976},{"t":985,"p":979},{"t":985,"p":981},{"t":985,"p":983},{"t":985,"p":985},{"t":985,"p":987},{"t":985,"p":989},{"t":985,"p":991},{"t":985,"p":994},{"t":985,"p":977},
{"t":986,"p":971},{"t":986,"p":975},{"t":986,"p":978},{"t":986,"p":980},{"t":986,"p":982},{"t":986,"p":984},{"t":986,"p":986},{"t":986,"p":988},{"t":986,"p":990},{"t":986,"p":992},{"t":986,"p":995},{"t":986,"p":981},
{"t":987,"p":972},{"t":987,"p":976},{"t":987,"p":979},{"t":987,"p":981},{"t":987,"p":983},{"t":987,"p":985},{"t":987,"p":987},{"t":987,"p":989},{"t":987,"p":991},{"t":987,"p":993},{"t":987,"p":996},{"t":987,"p":983},
{"t":988,"p":969},{"t":988,"p":974},{"t":988,"p":977},{"t":988,"p":980},{"t":988,"p":982},{"t":988,"p":984},{"t":988,"p":986},{"t":988,"p":988},{"t":988,"p":990},{"t":988,"p":992},{"t":988,"p":994},{"t":988,"p":997},
{"t":989,"p":973},{"t":989,"p":977},{"t":989,"p":980},{"t":989,"p":983},{"t":989,"p":985},{"t":989,"p":987},{"t":989,"p":989},{"t":989,"p":990},{"t":989,"p":992},{"t":989,"p":994},{"t":989,"p":997},{"t":989,"p":986},
{"t":990,"p":975},{"t":990,"p":978},{"t":990,"p":981},{"t":990,"p":984},{"t":990,"p":986},{"t":990,"p":988},{"t":990,"p":990},{"t":990,"p":991},{"t":990,"p":993},{"t":990,"p":995},{"t":990,"p":998},{"t":990,"p":1000},
{"t":991,"p":976},{"t":991,"p":980},{"t":991,"p":983},{"t":991,"p":985},{"t":991,"p":987},{"t":991,"p":989},{"t":991,"p":990},{"t":991,"p":992},{"t":991,"p":994},{"t":991,"p":996},{"t":991,"p":999},{"t":991,"p":986},{"t":991,"p":982},{"t":991,"p":1001},
{"t":992,"p":977},{"t":992,"p":981},{"t":992,"p":984},{"t":992,"p":986},{"t":992,"p":988},{"t":992,"p":990},{"t":992,"p":991},{"t":992,"p":993},{"t":992,"p":995},{"t":992,"p":997},{"t":992,"p":999},{"t":992,"p":1002},{"t":992,"p":987},{"t":992,"p":983},
{"t":993,"p":978},{"t":993,"p":981},{"t":993,"p":985},{"t":993,"p":987},{"t":993,"p":989},{"t":993,"p":991},{"t":993,"p":992},{"t":993,"p":994},{"t":993,"p":996},{"t":993,"p":998},{"t":993,"p":1000},{"t":993,"p":1003},{"t":993,"p":988},{"t":993,"p":984},
{"t":994,"p":977},{"t":994,"p":982},{"t":994,"p":985},{"t":994,"p":988},{"t":994,"p":990},{"t":994,"p":992},{"t":994,"p":993},{"t":994,"p":995},{"t":994,"p":997},{"t":994,"p":999},{"t":994,"p":1001},{"t":994,"p":1003},{"t":994,"p":989},{"t":994,"p":986},
{"t":995,"p":980},{"t":995,"p":983},{"t":995,"p":986},{"t":995,"p":989},{"t":995,"p":991},{"t":995,"p":993},{"t":995,"p":994},{"t":995,"p":996},{"t":995,"p":998},{"t":995,"p":1000},{"t":995,"p":1002},{"t":995,"p":1004},{"t":995,"p":990},{"t":995,"p":987},
{"t":996,"p":981},{"t":996,"p":985},{"t":996,"p":988},{"t":996,"p":990},{"t":996,"p":992},{"t":996,"p":994},{"t":996,"p":995},{"t":996,"p":997},{"t":996,"p":999},{"t":996,"p":1001},{"t":996,"p":1003},{"t":996,"p":1005},{"t":996,"p":991},{"t":996,"p":987},
{"t":997,"p":982},{"t":997,"p":986},{"t":997,"p":989},{"t":997,"p":991},{"t":997,"p":993},{"t":997,"p":995},{"t":997,"p":996},{"t":997,"p":998},{"t":997,"p":1000},{"t":997,"p":1002},{"t":997,"p":1004},{"t":997,"p":1006},{"t":997,"p":992},{"t":997,"p":988},
{"t":998,"p":984},{"t":998,"p":987},{"t":998,"p":990},{"t":998,"p":992},{"t":998,"p":994},{"t":998,"p":996},{"t":998,"p":997},{"t":998,"p":999},{"t":998,"p":1001},{"t":998,"p":1003},{"t":998,"p":1005},{"t":998,"p":1007},{"t":998,"p":993},{"t":998,"p":989},
{"t":999,"p":985},{"t":999,"p":988},{"t":999,"p":991},{"t":999,"p":993},{"t":999,"p":995},{"t":999,"p":997},{"t":999,"p":998},{"t":999,"p":1000},{"t":999,"p":1002},{"t":999,"p":1004},{"t":999,"p":1006},{"t":999,"p":1008},{"t":999,"p":994},{"t":999,"p":990},
{"t":1000,"p":986},{"t":1000,"p":989},{"t":1000,"p":992},{"t":1000,"p":994},{"t":1000,"p":996},{"t":1000,"p":998},{"t":1000,"p":999},{"t":1000,"p":1001},{"t":1000,"p":1003},{"t":1000,"p":1005},{"t":1000,"p":1007},{"t":1000,"p":1008},{"t":1000,"p":995},{"t":1000,"p":991},
{"t":1001,"p":987},{"t":1001,"p":990},{"t":1001,"p":993},{"t":1001,"p":995},{"t":1001,"p":997},{"t":1001,"p":999},{"t":1001,"p":1000},{"t":1001,"p":1002},{"t":1001,"p":1004},{"t":1001,"p":1006},{"t":1001,"p":1007},{"t":1001,"p":1009},{"t":1001,"p":996},{"t":1001,"p":992},
{"t":1002,"p":984},{"t":1002,"p":990},{"t":1002,"p":993},{"t":1002,"p":995},{"t":1002,"p":997},{"t":1002,"p":999},{"t":1002,"p":1001},{"t":1002,"p":1003},{"t":1002,"p":1005},{"t":1002,"p":1006},{"t":1002,"p":1008},{"t":1002,"p":1009},{"t":1002,"p":997},{"t":1002,"p":992},
{"t":1003,"p":984},{"t":1003,"p":988},{"t":1003,"p":994},{"t":1003,"p":996},{"t":1003,"p":998},{"t":1003,"p":1000},{"t":1003,"p":1002},{"t":1003,"p":1003},{"t":1003,"p":1005},{"t":1003,"p":1007},{"t":1003,"p":1008},{"t":1003,"p":1010},{"t":1003,"p":999},{"t":1003,"p":993},
{"t":1004,"p":985},{"t":1004,"p":989},{"t":1004,"p":994},{"t":1004,"p":996},{"t":1004,"p":998},{"t":1004,"p":1000},{"t":1004,"p":1002},{"t":1004,"p":1004},{"t":1004,"p":1005},{"t":1004,"p":1007},{"t":1004,"p":1008},{"t":1004,"p":1009},{"t":1004,"p":1001},{"t":1004,"p":992},
{"t":1005,"p":985},{"t":1005,"p":991},{"t":1005,"p":995},{"t":1005,"p":997},{"t":1005,"p":999},{"t":1005,"p":1001},{"t":1005,"p":1002},{"t":1005,"p":1004},{"t":1005,"p":1005},{"t":1005,"p":1006},{"t":1005,"p":1008},{"t":1005,"p":1009},{"t":1005,"p":1003},{"t":1005,"p":993},
{"t":1006,"p":986},{"t":1006,"p":992},{"t":1006,"p":995},{"t":1006,"p":997},{"t":1006,"p":999},{"t":1006,"p":1001},{"t":1006,"p":1002},{"t":1006,"p":1004},{"t":1006,"p":1005},{"t":1006,"p":1007},{"t":1006,"p":1008},{"t":1006,"p":1009},{"t":1006,"p":1003},{"t":1006,"p":994},
{"t":1007,"p":990},{"t":1007,"p":994},{"t":1007,"p":997},{"t":1007,"p":999},{"t":1007,"p":1001},{"t":1007,"p":1002},{"t":1007,"p":1003},{"t":1007,"p":1004},{"t":1007,"p":1006},{"t":1007,"p":1007},{"t":1007,"p":1008},{"t":1007,"p":1009},{"t":1007,"p":1005},{"t":1007,"p":996},
{"t":1008,"p":991},{"t":1008,"p":995},{"t":1008,"p":997},{"t":1008,"p":999},{"t":1008,"p":1001},{"t":1008,"p":1002},{"t":1008,"p":1004},{"t":1008,"p":1005},{"t":1008,"p":1006},{"t":1008,"p":1007},{"t":1008,"p":1008},{"t":1008,"p":1009},{"t":1008,"p":1010},{"t":1008,"p":998},
{"t":1009,"p":993},{"t":1009,"p":996},{"t":1009,"p":998},{"t":1009,"p":1000},{"t":1009,"p":1002},{"t":1009,"p":1003},{"t":1009,"p":1004},{"t":1009,"p":1005},{"t":1009,"p":1006},{"t":1009,"p":1007},{"t":1009,"p":1008},{"t":1009,"p":1009},{"t":1009,"p":1010},{"t":1009,"p":1001},
{"t":1010,"p":994},{"t":1010,"p":997},{"t":1010,"p":1000},{"t":1010,"p":1001},{"t":1010,"p":1002},{"t":1010,"p":1004},{"t":1010,"p":1005},{"t":1010,"p":1006},{"t":1010,"p":1007},{"t":1010,"p":1008},{"t":1010,"p":1009},{"t":1010,"p":1010},{"t":1010,"p":1003},
{"t":1011,"p":996},{"t":1011,"p":999},{"t":1011,"p":1001},{"t":1011,"p":1003},{"t":1011,"p":1004},{"t":1011,"p":1005},{"t":1011,"p":1006},{"t":1011,"p":1007},{"t":1011,"p":1008},{"t":1011,"p":1009},{"t":1011,"p":1010},{"t":1011,"p":1002},
{"t":1012,"p":997},{"t":1012,"p":1000},{"t":1012,"p":1002},{"t":1012,"p":1004},{"t":1012,"p":1005},{"t":1012,"p":1006},{"t":1012,"p":1007},{"t":1012,"p":1008},{"t":1012,"p":1009},{"t":1012,"p":1010},
{"t":1013,"p":1001},{"t":1013,"p":1003},{"t":1013,"p":1005},{"t":1013,"p":1006},{"t":1013,"p":1007},{"t":1013,"p":1008},{"t":1013,"p":1009},{"t":1013,"p":1010},
{"t":1014,"p":999},{"t":1014,"p":1005},{"t":1014,"p":1007},{"t":1014,"p":1008},{"t":1014,"p":1009},
{"t":1015,"p":1006},{"t":1015,"p":1008},{"t":1015,"p":1009},{"t":1015,"p":1010},
{"t":1016,"p":1003},{"t":1016,"p":1006},{"t":1016,"p":1007},{"t":1016,"p":1008},{"t":1016,"p":1009},
{"t":1017,"p":1011},
{"t":962,"p":956.5},{"t":962,"p":960.5},{"t":962,"p":963.5},
{"t":963,"p":957.5},{"t":963,"p":961.5},{"t":963,"p":966.5},
{"t":964,"p":958.5},{"t":964,"p":962.5},{"t":964,"p":967.5},
{"t":965,"p":959.5},{"t":965,"p":963.5},{"t":965,"p":967.5},
{"t":966,"p":960.5},{"t":966,"p":964.5},{"t":966,"p":968.5},
{"t":967,"p":961.5},{"t":967,"p":965.5},{"t":967,"p":969.5},
{"t":968,"p":963.5},{"t":968,"p":967.5},{"t":968,"p":971.5},
{"t":969,"p":964.5},{"t":969,"p":968.5},{"t":969,"p":973.5},
{"t":970,"p":964.5},{"t":970,"p":968.5},{"t":970,"p":972.5},{"t":970,"p":975.5},
{"t":971,"p":966.5},{"t":971,"p":970.5},{"t":971,"p":974.5},{"t":971,"p":977.5},
{"t":972,"p":965.5},{"t":972,"p":970.5},{"t":972,"p":974.5},{"t":972,"p":976.5},
{"t":973,"p":968.5},{"t":973,"p":971.5},{"t":973,"p":975.5},{"t":973,"p":977.5},
{"t":974,"p":968.5},{"t":974,"p":973.5},{"t":974,"p":977.5},{"t":974,"p":979.5},
{"t":975,"p":970.5},{"t":975,"p":974.5},{"t":975,"p":978.5},{"t":975,"p":981.5},
{"t":976,"p":969.5},{"t":976,"p":972.5},{"t":976,"p":976.5},{"t":976,"p":980.5},{"t":976,"p":982.5},
{"t":977,"p":971.5},{"t":977,"p":975.5},{"t":977,"p":979.5},{"t":977,"p":983.5},
{"t":978,"p":970.5},{"t":978,"p":974.5},{"t":978,"p":978.5},{"t":978,"p":982.5},{"t":978,"p":984.5},
{"t":979,"p":972.5},{"t":979,"p":977.5},{"t":979,"p":981.5},{"t":979,"p":985.5},
{"t":980,"p":973.5},{"t":980,"p":978.5},{"t":980,"p":980.5},{"t":980,"p":984.5},{"t":980,"p":986.5},
{"t":981,"p":975.5},{"t":981,"p":979.5},{"t":981,"p":983.5},{"t":981,"p":987.5},
{"t":982,"p":974.5},{"t":982,"p":979.5},{"t":982,"p":983.5},{"t":982,"p":985.5},{"t":982,"p":989.5},
{"t":983,"p":976.5},{"t":983,"p":980.5},{"t":983,"p":984.5},{"t":983,"p":988.5},{"t":983,"p":990.5},
{"t":984,"p":977.5},{"t":984,"p":981.5},{"t":984,"p":985.5},{"t":984,"p":987.5},{"t":984,"p":991.5},
{"t":985,"p":978.5},{"t":985,"p":982.5},{"t":985,"p":986.5},{"t":985,"p":988.5},{"t":985,"p":992.5},
{"t":986,"p":979.5},{"t":986,"p":983.5},{"t":986,"p":987.5},{"t":986,"p":989.5},{"t":986,"p":993.5},
{"t":987,"p":980.5},{"t":987,"p":984.5},{"t":987,"p":988.5},{"t":987,"p":990.5},{"t":987,"p":994.5},
{"t":988,"p":981.5},{"t":988,"p":985.5},{"t":988,"p":989.5},{"t":988,"p":991.5},{"t":988,"p":995.5},
{"t":989,"p":982.5},{"t":989,"p":986.5},{"t":989,"p":988.5},{"t":989,"p":991.5},{"t":989,"p":995.5},
{"t":990,"p":983.5},{"t":990,"p":987.5},{"t":990,"p":989.5},{"t":990,"p":992.5},{"t":990,"p":996.5},
{"t":991,"p":984.5},{"t":991,"p":988.5},{"t":991,"p":991.5},{"t":991,"p":993.5},{"t":991,"p":997.5},
{"t":992,"p":985.5},{"t":992,"p":989.5},{"t":992,"p":992.5},{"t":992,"p":994.5},{"t":992,"p":998.5},
{"t":993,"p":986.5},{"t":993,"p":990.5},{"t":993,"p":993.5},{"t":993,"p":995.5},{"t":993,"p":999.5},
{"t":994,"p":987.5},{"t":994,"p":991.5},{"t":994,"p":994.5},{"t":994,"p":996.5},{"t":994,"p":1000.5},
{"t":995,"p":988.5},{"t":995,"p":992.5},{"t":995,"p":995.5},{"t":995,"p":997.5},{"t":995,"p":1001.5},
{"t":996,"p":989.5},{"t":996,"p":993.5},{"t":996,"p":996.5},{"t":996,"p":998.5},{"t":996,"p":1002.5},
{"t":997,"p":990.5},{"t":997,"p":994.5},{"t":997,"p":997.5},{"t":997,"p":999.5},{"t":997,"p":1003.5},
{"t":998,"p":991.5},{"t":998,"p":995.5},{"t":998,"p":998.5},{"t":998,"p":1000.5},{"t":998,"p":1004.5},
{"t":999,"p":992.5},{"t":999,"p":996.5},{"t":999,"p":999.5},{"t":999,"p":1001.5},{"t":999,"p":1005.5},
{"t":1000,"p":993.5},{"t":1000,"p":997.5},{"t":1000,"p":1000.5},{"t":1000,"p":1002.5},{"t":1000,"p":1006.5},
{"t":1001,"p":994.5},{"t":1001,"p":998.5},{"t":1001,"p":1001.5},{"t":1001,"p":1003.5},{"t":1001,"p":1007.5},
{"t":1002,"p":994.5},{"t":1002,"p":998.5},{"t":1002,"p":1002.5},{"t":1002,"p":1004.5},{"t":1002,"p":1007.5},
{"t":1003,"p":995.5},{"t":1003,"p":999.5},{"t":1003,"p":1003.5},{"t":1003,"p":1005.5},{"t":1003,"p":1008.5},
{"t":1004,"p":995.5},{"t":1004,"p":999.5},{"t":1004,"p":1003.5},{"t":1004,"p":1006.5},{"t":1004,"p":1008.5},
{"t":1005,"p":996.5},{"t":1005,"p":1000.5},{"t":1005,"p":1003.5},{"t":1005,"p":1006.5},{"t":1005,"p":1009.5},
{"t":1006,"p":996.5},{"t":1006,"p":1000.5},{"t":1006,"p":1004.5},{"t":1006,"p":1007.5},{"t":1006,"p":1009.5},
{"t":1007,"p":998.5},{"t":1007,"p":1000.5},{"t":1007,"p":1004.5},{"t":1007,"p":1007.5},{"t":1007,"p":1009.5},
{"t":1008,"p":998.5},{"t":1008,"p":1000.5},{"t":1008,"p":1003.5},{"t":1008,"p":1006.5},{"t":1008,"p":1009.5},
{"t":1009,"p":999.5},{"t":1009,"p":1001.5},{"t":1009,"p":1004.5},{"t":1009,"p":1007.5},{"t":1009,"p":1009.5},
{"t":1010,"p":998.5},{"t":1010,"p":1002.5},{"t":1010,"p":1005.5},{"t":1010,"p":1008.5},{"t":1010,"p":1009.5},
{"t":1011,"p":1000.5},{"t":1011,"p":1004.5},{"t":1011,"p":1006.5},{"t":1011,"p":1008.5},
{"t":1012,"p":1001.5},{"t":1012,"p":1005.5},{"t":1012,"p":1007.5},{"t":1012,"p":1009.5},
{"t":1013,"p":1004.5},{"t":1013,"p":1007.5},{"t":1013,"p":1009.5},
{"t":978,"p":971.25},{"t":978,"p":973.75},{"t":978,"p":975.25},{"t":978,"p":976.75},{"t":978,"p":978.25},{"t":978,"p":979.75},{"t":978,"p":981.25},{"t":978,"p":982.75},
{"t":979,"p":972.25},{"t":979,"p":974.75},{"t":979,"p":976.25},{"t":979,"p":977.75},{"t":979,"p":979.25},{"t":979,"p":980.75},{"t":979,"p":982.25},{"t":979,"p":983.75},
{"t":980,"p":973.25},{"t":980,"p":975.75},{"t":980,"p":977.25},{"t":980,"p":978.75},{"t":980,"p":980.25},{"t":980,"p":981.75},{"t":980,"p":983.25},{"t":980,"p":984.75},
{"t":981,"p":974.25},{"t":981,"p":976.75},{"t":981,"p":978.25},{"t":981,"p":979.75},{"t":981,"p":981.25},{"t":981,"p":982.75},{"t":981,"p":984.25},{"t":981,"p":985.75},
{"t":982,"p":975.25},{"t":982,"p":977.75},{"t":982,"p":979.25},{"t":982,"p":980.75},{"t":982,"p":982.25},{"t":982,"p":983.75},{"t":982,"p":985.25},{"t":982,"p":986.75},
{"t":983,"p":976.25},{"t":983,"p":978.75},{"t":983,"p":980.25},{"t":983,"p":981.75},{"t":983,"p":983.25},{"t":983,"p":984.75},{"t":983,"p":986.25},{"t":983,"p":987.75},
{"t":984,"p":977.25},{"t":984,"p":979.75},{"t":984,"p":981.25},{"t":984,"p":982.75},{"t":984,"p":984.25},{"t":984,"p":985.75},{"t":984,"p":987.25},{"t":984,"p":988.75},
{"t":985,"p":978.25},{"t":985,"p":980.75},{"t":985,"p":982.25},{"t":985,"p":983.75},{"t":985,"p":985.25},{"t":985,"p":986.75},{"t":985,"p":988.25},{"t":985,"p":989.75},
{"t":986,"p":979.25},{"t":986,"p":981.75},{"t":986,"p":983.25},{"t":986,"p":984.75},{"t":986,"p":986.25},{"t":986,"p":987.75},{"t":986,"p":989.25},{"t":986,"p":990.75},
{"t":987,"p":980.25},{"t":987,"p":982.75},{"t":987,"p":984.25},{"t":987,"p":985.75},{"t":987,"p":987.25},{"t":987,"p":988.75},{"t":987,"p":990.25},{"t":987,"p":991.75},
{"t":988,"p":981.25},{"t":988,"p":983.75},{"t":988,"p":985.25},{"t":988,"p":986.75},{"t":988,"p":988.25},{"t":988,"p":989.75},{"t":988,"p":991.25},{"t":988,"p":992.75},
{"t":989,"p":982.25},{"t":989,"p":984.75},{"t":989,"p":986.25},{"t":989,"p":987.75},{"t":989,"p":989.25},{"t":989,"p":990.75},{"t":989,"p":992.25},{"t":989,"p":993.75},
{"t":990,"p":983.25},{"t":990,"p":985.75},{"t":990,"p":987.25},{"t":990,"p":988.75},{"t":990,"p":990.25},{"t":990,"p":991.75},{"t":990,"p":993.25},{"t":990,"p":994.75},
{"t":991,"p":983.75},{"t":991,"p":986.25},{"t":991,"p":987.75},{"t":991,"p":989.25},{"t":991,"p":990.75},{"t":991,"p":992.25},{"t":991,"p":993.75},{"t":991,"p":995.25},
{"t":992,"p":984.75},{"t":992,"p":987.25},{"t":992,"p":988.75},{"t":992,"p":990.25},{"t":992,"p":991.75},{"t":992,"p":993.25},{"t":992,"p":994.75},{"t":992,"p":996.25},
{"t":993,"p":985.75},{"t":993,"p":988.25},{"t":993,"p":989.75},{"t":993,"p":991.25},{"t":993,"p":992.75},{"t":993,"p":994.25},{"t":993,"p":995.75},{"t":993,"p":997.25},
{"t":994,"p":986.75},{"t":994,"p":989.25},{"t":994,"p":990.75},{"t":994,"p":992.25},{"t":994,"p":993.75},{"t":994,"p":995.25},{"t":994,"p":996.75},{"t":994,"p":998.25},
{"t":995,"p":987.75},{"t":995,"p":990.25},{"t":995,"p":991.75},{"t":995,"p":993.25},{"t":995,"p":994.75},{"t":995,"p":996.25},{"t":995,"p":997.75},{"t":995,"p":999.25},
{"t":996,"p":988.75},{"t":996,"p":991.25},{"t":996,"p":992.75},{"t":996,"p":994.25},{"t":996,"p":995.75},{"t":996,"p":997.25},{"t":996,"p":998.75},{"t":996,"p":1000.25},
{"t":997,"p":989.75},{"t":997,"p":992.25},{"t":997,"p":993.75},{"t":997,"p":995.25},{"t":997,"p":996.75},{"t":997,"p":998.25},{"t":997,"p":999.75},{"t":997,"p":1001.25},
{"t":998,"p":990.75},{"t":998,"p":993.25},{"t":998,"p":994.75},{"t":998,"p":996.25},{"t":998,"p":997.75},{"t":998,"p":999.25},{"t":998,"p":1000.75},{"t":998,"p":1002.25},
{"t":999,"p":991.75},{"t":999,"p":994.25},{"t":999,"p":995.75},{"t":999,"p":997.25},{"t":999,"p":998.75},{"t":999,"p":1000.25},{"t":999,"p":1001.75},{"t":999,"p":1003.25},
{"t":1000,"p":992.75},{"t":1000,"p":995.25},{"t":1000,"p":996.75},{"t":1000,"p":998.25},{"t":1000,"p":999.75},{"t":1000,"p":1001.25},{"t":1000,"p":1002.75},{"t":1000,"p":1004.25},
{"t":1001,"p":993.25},{"t":1001,"p":995.75},{"t":1001,"p":997.25},{"t":1001,"p":998.75},{"t":1001,"p":1000.25},{"t":1001,"p":1001.75},{"t":1001,"p":1003.25},{"t":1001,"p":1004.75},
{"t":1002,"p":993.75},{"t":1002,"p":996.25},{"t":1002,"p":997.75},{"t":1002,"p":999.25},{"t":1002,"p":1000.75},{"t":1002,"p":1002.25},{"t":1002,"p":1003.75},{"t":1002,"p":1005.25},
{"t":1003,"p":994.75},{"t":1003,"p":997.25},{"t":1003,"p":998.75},{"t":1003,"p":1000.25},{"t":1003,"p":1001.75},{"t":1003,"p":1003.25},{"t":1003,"p":1004.75},{"t":1003,"p":1006.25},
{"t":1004,"p":995.25},{"t":1004,"p":997.75},{"t":1004,"p":999.25},{"t":1004,"p":1000.75},{"t":1004,"p":1002.25},{"t":1004,"p":1003.75},{"t":1004,"p":1005.25},{"t":1004,"p":1006.75},
{"t":1005,"p":996.25},{"t":1005,"p":998.75},{"t":1005,"p":1000.25},{"t":1005,"p":1001.75},{"t":1005,"p":1003.25},{"t":1005,"p":1004.75},{"t":1005,"p":1006.25},{"t":1005,"p":1007.75},
{"t":1006,"p":996.75},{"t":1006,"p":999.25},{"t":1006,"p":1000.75},{"t":1006,"p":1002.25},{"t":1006,"p":1003.75},{"t":1006,"p":1005.25},{"t":1006,"p":1006.75},{"t":1006,"p":1008.25},
{"t":1007,"p":997.75},{"t":1007,"p":1000.25},{"t":1007,"p":1001.75},{"t":1007,"p":1003.25},{"t":1007,"p":1004.75},{"t":1007,"p":1006.25},{"t":1007,"p":1007.75},{"t":1007,"p":1008.75},
{"t":1008,"p":998.25},{"t":1008,"p":1000.75},{"t":1008,"p":1002.25},{"t":1008,"p":1003.75},{"t":1008,"p":1005.25},{"t":1008,"p":1006.75},{"t":1008,"p":1008.25},{"t":1008,"p":1009.25},
{"t":1009,"p":999.25},{"t":1009,"p":1001.75},{"t":1009,"p":1003.25},{"t":1009,"p":1004.75},{"t":1009,"p":1006.25},{"t":1009,"p":1007.75},{"t":1009,"p":1008.75},{"t":1009,"p":1009.75},
{"t":1010,"p":1000.25},{"t":1010,"p":1002.75},{"t":1010,"p":1004.25},{"t":1010,"p":1005.75},{"t":1010,"p":1007.25},{"t":1010,"p":1008.25},{"t":1010,"p":1009.25},
{"t":1011,"p":1001.25},{"t":1011,"p":1003.75},{"t":1011,"p":1005.25},{"t":1011,"p":1006.75},{"t":1011,"p":1008.25},{"t":1011,"p":1009.25},
{"t":1012,"p":1002.75},{"t":1012,"p":1005.25},{"t":1012,"p":1006.75},{"t":1012,"p":1008.25},{"t":1012,"p":1009.25}
]
},
"hconcat": [
{
  "width": 605, "height": 401,
  "title": {"text": ["Vmax: Predicted vs Actual", "MAE=2.43 kt, RMSE=3.54 kt, r=0.992"], "anchor": "middle", "lineHeight": 21, "offset": 2},
  "layer": [
    {"data": {"name": "vmax"},
     "mark": {"type": "point", "filled": true, "size": 189, "strokeWidth": 0.9, "opacity": 1},
     "encoding": {
       "x": {"field": "t", "type": "quantitative", "scale": {"domain": [8, 162], "nice": false, "zero": false}, "axis": {"values": [20, 40, 60, 80, 100, 120, 140, 160], "title": "True Vmax (knots)"}},
       "y": {"field": "p", "type": "quantitative", "scale": {"domain": [8, 162], "nice": false, "zero": false}, "axis": {"values": [20, 40, 60, 80, 100, 120, 140, 160], "title": "Predicted Vmax (knots)"}},
       "color": {"datum": "Predictions", "type": "nominal", "scale": {"domain": ["Predictions", "Perfect fit"], "range": ["rgba(33,150,243,0.4)", "#ff0000"]}},
       "stroke": {"datum": "Predictions", "type": "nominal", "scale": {"domain": ["Predictions", "Perfect fit"], "range": ["rgba(33,150,243,0.4)", "#ff0000"]}},
       "shape": {"datum": "Predictions", "type": "nominal", "scale": {"domain": ["Predictions", "Perfect fit"], "range": ["M0.4,0A0.4,0.4,0,1,1,-0.4,0A0.4,0.4,0,1,1,0.4,0Z", "M-2.57,0H-0.5M0.5,0H2.57"]}}
     }},
    {"data": {"name": "fitV"},
     "mark": {"type": "line", "color": "#ff0000", "strokeWidth": 2.2, "strokeDash": [10, 5]},
     "encoding": {"x": {"field": "t", "type": "quantitative"}, "y": {"field": "p", "type": "quantitative"}}}
  ]
},
{
  "width": 605, "height": 401,
  "title": {"text": ["MSLP: Predicted vs Actual", "MAE=2.87 hPa, RMSE=4.07 hPa, r=0.977"], "anchor": "middle", "lineHeight": 21, "offset": 2},
  "layer": [
    {"data": {"name": "mslp"},
     "mark": {"type": "point", "filled": true, "size": 189, "strokeWidth": 0.9, "opacity": 1},
     "encoding": {
       "x": {"field": "t", "type": "quantitative", "scale": {"domain": [898, 1022.6], "nice": false, "zero": false}, "axis": {"values": [900, 920, 940, 960, 980, 1000, 1020], "title": "True MSLP (hPa)"}},
       "y": {"field": "p", "type": "quantitative", "scale": {"domain": [898.5, 1022.5], "nice": false, "zero": false}, "axis": {"values": [900, 920, 940, 960, 980, 1000, 1020], "title": "Predicted MSLP (hPa)"}},
       "color": {"datum": "Predictions", "type": "nominal", "scale": {"domain": ["Predictions", "Perfect fit"], "range": ["rgba(255,87,34,0.4)", "#0000ff"]}},
       "stroke": {"datum": "Predictions", "type": "nominal", "scale": {"domain": ["Predictions", "Perfect fit"], "range": ["rgba(255,87,34,0.4)", "#0000ff"]}},
       "shape": {"datum": "Predictions", "type": "nominal", "scale": {"domain": ["Predictions", "Perfect fit"], "range": ["M0.4,0A0.4,0.4,0,1,1,-0.4,0A0.4,0.4,0,1,1,0.4,0Z", "M-2.57,0H-0.5M0.5,0H2.57"]}}
     }},
    {"data": {"name": "fitM"},
     "mark": {"type": "line", "color": "#0000ff", "strokeWidth": 2.2, "strokeDash": [10, 5]},
     "encoding": {"x": {"field": "t", "type": "quantitative"}, "y": {"field": "p", "type": "quantitative"}}}
  ]
}
]
}
